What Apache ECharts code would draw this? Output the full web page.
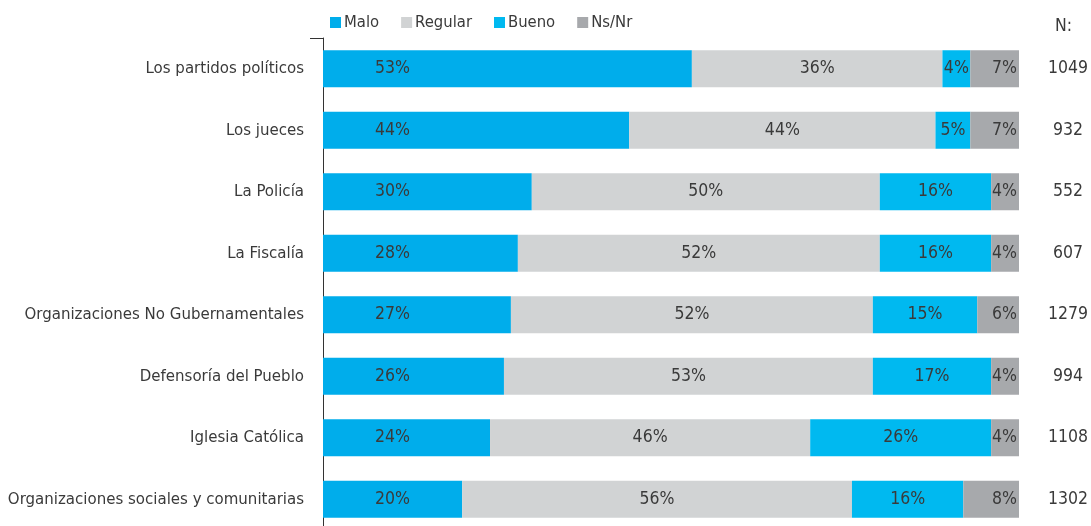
<!DOCTYPE html>
<html>
<head>
<meta charset="utf-8">
<script src="https://cdn.jsdelivr.net/npm/echarts@6/dist/echarts.min.js"></script>
<style>html,body{margin:0;padding:0;background:#fff;}#c{width:1091px;height:526px;}</style>
</head>
<body>
<div id="c"></div>
<script>
const categories = ['Los partidos políticos','Los jueces','La Policía','La Fiscalía','Organizaciones No Gubernamentales','Defensoría del Pueblo','Iglesia Católica','Organizaciones sociales y comunitarias'];
const malo = [53,44,30,28,27,26,24,20];
const regular = [36,44,50,52,52,53,46,56];
const bueno = [4,5,16,16,15,17,26,16];
const nsnr = [7,7,4,4,6,4,4,8];
const nValues = ['1049','932','552','607','1279','994','1108','1302'];
const seriesNames = ['Malo','Regular','Bueno','Ns/Nr'];

const FONT = "'DejaVu Sans Condensed','Liberation Sans Narrow',sans-serif";
const TXT = '#3a3a3a';
const colors = ['#00ADEB','#D1D3D4','#00B9F0','#A7A9AC'];

const chart = echarts.init(document.getElementById('c'), null, {renderer:'canvas'});
function mk(name, data, color, pos, dist) {
  return {
    name, type:'bar', stack:'t', data, barWidth:37,
    itemStyle:{color},
    label:{show:true, position:pos, distance:dist, formatter:'{c}%', color:TXT, fontFamily:FONT, fontSize:17.5},
    emphasis:{disabled:true}
  };
}
chart.setOption({
  animation:false,
  textStyle:{fontFamily:FONT},
  legend:{
    data:seriesNames, left:325, top:9, icon:'rect', itemWidth:11, itemHeight:11, itemGap:22,
    textStyle:{fontFamily:FONT, fontSize:16.5, color:TXT, padding:[0,0,0,-2]}
  },
  graphic:[{type:'text', left:1055, top:17, style:{text:'N:', font:"17.5px " + FONT, fill:TXT}}],
  grid:{left:323, right:72, top:38, bottom:-4, containLabel:false, outerBoundsMode:'none'},
  xAxis:{type:'value', min:0, max:100, show:false},
  yAxis:[
    {type:'category', data:categories, inverse:true,
     axisLine:{show:true, lineStyle:{color:'#333', width:1}},
     axisTick:{show:true, length:13, lineStyle:{color:'#333'}, interval:function(i){return i===0;}},
     axisLabel:{color:TXT, fontSize:16.7, fontFamily:FONT, margin:19}},
    {type:'category', data:nValues, inverse:true, position:'right',
     axisLine:{show:false}, axisTick:{show:false},
     axisLabel:{color:TXT, fontSize:17.5, fontFamily:FONT, margin:49, align:'center'}}
  ],
  series:[
    mk('Malo', malo, colors[0], 'insideLeft', 52),
    mk('Regular', regular, colors[1], 'inside', 0),
    mk('Bueno', bueno, colors[2], 'inside', 0),
    mk('Ns/Nr', nsnr, colors[3], 'insideRight', 2)
  ]
});
</script>
</body>
</html>
